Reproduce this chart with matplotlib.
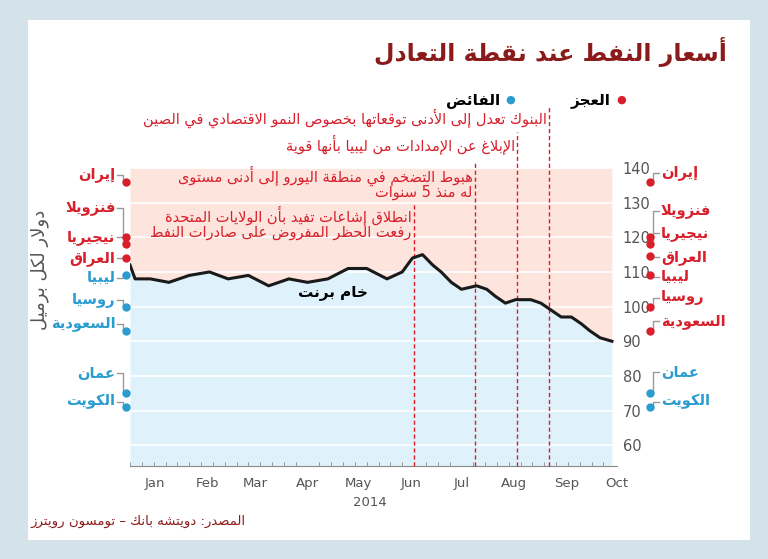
import matplotlib
matplotlib.use("Agg")
import matplotlib.pyplot as plt
from matplotlib.transforms import blended_transform_factory as btf
import matplotlib.patches as mpatches

# ---------- minimal Arabic shaping (presentation forms) + RTL ----------
DUAL = {0x0626:0xFE89,0x0628:0xFE8F,0x062A:0xFE95,0x062B:0xFE99,0x062C:0xFE9D,0x062D:0xFEA1,
        0x062E:0xFEA5,0x0633:0xFEB1,0x0634:0xFEB5,0x0635:0xFEB9,0x0636:0xFEBD,0x0637:0xFEC1,
        0x0638:0xFEC5,0x0639:0xFEC9,0x063A:0xFECD,0x0641:0xFED1,0x0642:0xFED5,0x0643:0xFED9,
        0x0644:0xFEDD,0x0645:0xFEE1,0x0646:0xFEE5,0x0647:0xFEE9,0x064A:0xFEF1}
RIGHT = {0x0622:0xFE81,0x0623:0xFE83,0x0624:0xFE85,0x0625:0xFE87,0x0627:0xFE8D,0x0629:0xFE93,
         0x062F:0xFEA9,0x0630:0xFEAB,0x0631:0xFEAD,0x0632:0xFEAF,0x0648:0xFEED,0x0649:0xFEEF}
LAMALEF = {0x0627:0xFEFB,0x0623:0xFEF7,0x0625:0xFEF9,0x0622:0xFEF5}

def shape(s):
    cps = [ord(c) for c in s]
    units = []
    i = 0
    while i < len(cps):
        if cps[i] == 0x0644 and i + 1 < len(cps) and cps[i+1] in LAMALEF:
            units.append(('LA', cps[i+1])); i += 2
        else:
            units.append(('C', cps[i])); i += 1
    def arabic(u):
        return u[0] == 'LA' or u[1] in DUAL or u[1] in RIGHT
    def joins_next(u):
        return u[0] == 'C' and u[1] in DUAL
    out = []
    for k, u in enumerate(units):
        prev = units[k-1] if k > 0 else None
        nxt = units[k+1] if k + 1 < len(units) else None
        jp = prev is not None and joins_next(prev) and arabic(u)
        jn = nxt is not None and joins_next(u) and arabic(nxt)
        if u[0] == 'LA':
            out.append(chr(LAMALEF[u[1]] + (1 if jp else 0)))
        elif u[1] in DUAL:
            b = DUAL[u[1]]
            out.append(chr(b + (3 if jp and jn else 1 if jp else 2 if jn else 0)))
        elif u[1] in RIGHT:
            out.append(chr(RIGHT[u[1]] + (1 if jp else 0)))
        else:
            out.append(chr(u[1]))
    r = ''.join(out)[::-1]
    res, run = '', ''
    for c in r:
        if c.isdigit():
            run += c
        else:
            res += run[::-1]; run = ''; res += c
    res += run[::-1]
    return res

A = shape

# ---------- data ----------
price_days = [0, 3, 12, 23, 35, 47, 58, 70, 82, 94, 105, 117, 129, 140, 152, 161, 167, 173, 179, 184,
              190, 196, 205, 211, 216, 222, 228, 237, 243, 249, 255, 261, 267, 272, 278, 285]
price_vals = [112, 108, 108, 107, 109, 110, 108, 109, 106, 108, 107, 108, 111, 111, 108, 110, 114, 115,
              112, 110, 107, 105, 106, 105, 103, 101, 102, 102, 101, 99, 97, 97, 95, 93, 91, 90]

months = ["Jan", "Feb", "Mar", "Apr", "May", "Jun", "Jul", "Aug", "Sep", "Oct"]
month_starts = [0, 31, 59, 90, 120, 151, 181, 212, 243, 273]

countries = ["إيران", "فنزويلا", "نيجيريا", "العراق", "ليبيا", "روسيا", "السعودية", "عمان", "الكويت"]
left_vals = [136, 120, 118, 114, 109, 100, 93, 75, 71]
right_vals = [136, 120, 118, 114.5, 109, 100, 93, 75, 71]
left_deficit = [True, True, True, True, False, False, False, False, False]
right_deficit = [True, True, True, True, True, True, True, False, False]
left_label_y = [138, 128.5, 120, 114, 108.3, 101.9, 95, 80.8, 72.6]
right_label_y = [138.6, 127.6, 121.2, 114.3, 108.6, 102.5, 95.8, 81, 72.6]

event_days = [168, 204, 229, 248]
event_texts = [["انطلاق إشاعات تفيد بأن الولايات المتحدة", "رفعت الحظر المفروض على صادرات النفط"],
               ["هبوط التضخم في منطقة اليورو إلى أدنى مستوى", "له منذ 5 سنوات"],
               ["الإبلاغ عن الإمدادات من ليبيا بأنها قوية"],
               ["البنوك تعدل إلى الأدنى توقعاتها بخصوص النمو الاقتصادي في الصين"]]
event_text_y = [[126.3, 121.4], [137.8, 133], [146.8], [154.3]]

RED = "#d7202b"
BLUE = "#2a9ccf"
PINK = "#fde4dc"
LBLUE = "#dff1fb"
FONT = "DejaVu Sans"

fig = plt.figure(figsize=(7.68, 5.59), dpi=100)
fig.patch.set_facecolor("#d4e3e9")
fig.patches.append(mpatches.Rectangle((28/768, 1-540/559), 722/768, 520/559, transform=fig.transFigure,
                                      facecolor="white", edgecolor="none", zorder=-10))

ax = fig.add_axes([130/768, 1-466/559, 487/768, 298/559])
ax.set_zorder(2)
ax.patch.set_alpha(0)
ymin, ymax = 54, 140
ax.set_xlim(0, 285)
ax.set_ylim(ymin, ymax)
ax.fill_between(price_days, price_vals, ymax, color=PINK, lw=0, zorder=0)
ax.fill_between(price_days, ymin, price_vals, color=LBLUE, lw=0, zorder=0)
for v in range(60, 141, 10):
    ax.axhline(v, color="white", lw=1.2, zorder=1)
ax.plot(price_days, price_vals, color="#1a1a1a", lw=2.2, zorder=4)
ax.text(120, 103, A("خام برنت"), fontsize=11, fontweight="bold", fontfamily=FONT, ha="center", zorder=5)

for s in ax.spines.values():
    s.set_visible(False)
ax.spines["bottom"].set_visible(True)
ax.spines["bottom"].set_color("#888888")
ax.set_yticks(range(60, 141, 10))
ax.yaxis.tick_right()
ax.tick_params(axis="y", length=0, labelsize=10.5, labelcolor="#555555", pad=4)
ax.set_xticks([m + 15 for m in month_starts])
ax.set_xticklabels(months)
ax.set_xticks(range(0, 286, 7), minor=True)
ax.tick_params(axis="x", which="major", length=0, labelsize=9.5, labelcolor="#555555", pad=8)
ax.tick_params(axis="x", which="minor", length=3, color="#888888", direction="in")
ax.text(142, ymin - 11.5, "2014", fontsize=9.5, color="#555555", ha="center", fontfamily=FONT)

# events
for d, lines, ys in zip(event_days, event_texts, event_text_y):
    top = ys[0] + 3.5
    ax.plot([d, d], [ymin, top], ls=(0, (3, 2)), color=RED, lw=1, clip_on=False, zorder=3)
    for t, y in zip(lines, ys):
        ax.text(d - 1.5, y, A(t), fontsize=10.5, color=RED, ha="right", va="center",
                fontfamily=FONT, clip_on=False, zorder=5)

# side markers
tl = btf(ax.transAxes, ax.transData)
for vals, lys, defs, dx, tx, ha in [(left_vals, left_label_y, left_deficit, -0.008, -0.03, "right"),
                                      (right_vals, right_label_y, right_deficit, 1.068, 1.09, "left")]:
    for name, v, ly, dfc in zip(countries, vals, lys, defs):
        c = RED if dfc else BLUE
        ax.plot([dx], [v], "o", color=c, ms=5, transform=tl, clip_on=False, zorder=6)
        sgn = -1 if ha == "right" else 1
        ax.plot([dx, dx + sgn * 0.006, dx + sgn * 0.006, tx - sgn * 0.004],
                [v, v, ly, ly], color="#999999", lw=1, transform=tl, clip_on=False, zorder=5)
        ax.text(tx, ly, A(name), color=c, fontsize=10.5, fontweight="bold", ha=ha, va="center",
                fontfamily=FONT, transform=tl, clip_on=False)

# titles and labels
fig.text(727/768, 1-52/559, A("أسعار النفط عند نقطة التعادل"), fontsize=17, fontweight="bold",
         color="#8b1a1a", ha="right", va="center", fontfamily=FONT)
fig.text(610/768, 1-100/559, A("العجز"), fontsize=11, fontweight="bold", ha="right", va="center", fontfamily=FONT)
fig.text(621/768, 1-100/559, "●", fontsize=8, color=RED, ha="center", va="center")
fig.text(500/768, 1-100/559, A("الفائض"), fontsize=11, fontweight="bold", ha="right", va="center", fontfamily=FONT)
fig.text(510/768, 1-100/559, "●", fontsize=8, color=BLUE, ha="center", va="center")
fig.text(40/768, 1-270/559, A("دولار لكل برميل"), fontsize=13, color="#555555", rotation=90,
         ha="center", va="center", fontfamily=FONT)
fig.text(245/768, 1-521/559, A("المصدر: دويتشه بانك – تومسون رويترز"), fontsize=9.5, color="#8b1a1a",
         ha="right", va="center", fontfamily=FONT)

fig.savefig("out.png", dpi=100, facecolor=fig.get_facecolor())
